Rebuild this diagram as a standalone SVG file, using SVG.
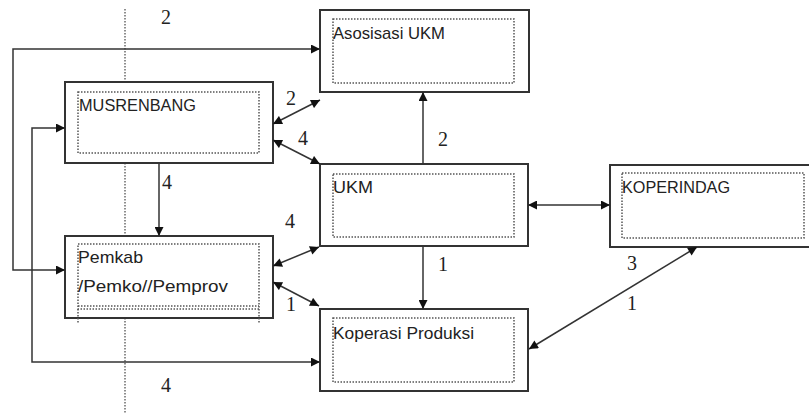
<svg xmlns="http://www.w3.org/2000/svg" width="809" height="414" viewBox="0 0 809 414">
<defs>
<marker id="ah" viewBox="0 0 10 10" refX="10" refY="5" markerWidth="11" markerHeight="9" markerUnits="userSpaceOnUse" orient="auto-start-reverse">
<path d="M0,0 L10,5 L0,10 Z" fill="#111"/>
</marker>
</defs>
<style>
.box{fill:#fff;stroke:#333;stroke-width:2}
.inner{fill:none;stroke:#555;stroke-width:1.5;stroke-dasharray:1.5 1.5}
.lbl{font-family:"Liberation Sans",Arial,sans-serif;font-size:17px;fill:#222}
.num{font-family:"Liberation Serif","Times New Roman",serif;font-size:20px;fill:#222;text-anchor:middle}
.con{fill:none;stroke:#333;stroke-width:1.5;marker-end:url(#ah)}
.both{marker-start:url(#ah)}
.guide{fill:none;stroke:#444;stroke-width:1.2;stroke-dasharray:1.5 1.5}
</style>
<rect width="809" height="414" fill="#fff"/>
<g id="guide">
<path class="guide" d="M125,9 V82 M125,163 V236 M125,318 V414"/>
</g>
<g id="asosisasi">
<rect class="box" x="320" y="10" width="209" height="82"/>
<rect class="inner" x="333" y="19" width="181" height="64"/>
<text class="lbl" x="333" y="39" textLength="112" lengthAdjust="spacingAndGlyphs">Asosisasi UKM</text>
</g>
<g id="musrenbang">
<rect class="box" x="65" y="82" width="208" height="81"/>
<rect class="inner" x="78" y="92" width="181" height="61"/>
<text class="lbl" x="79" y="111" textLength="117" lengthAdjust="spacingAndGlyphs">MUSRENBANG</text>
</g>
<g id="ukm">
<rect class="box" x="320" y="164" width="208" height="82"/>
<rect class="inner" x="333" y="174" width="181" height="63"/>
<text class="lbl" x="333" y="193" textLength="40" lengthAdjust="spacingAndGlyphs">UKM</text>
</g>
<g id="koperindag">
<rect class="box" x="610" y="165" width="202" height="82"/>
<rect class="inner" x="622" y="173" width="182" height="65"/>
<text class="lbl" x="622" y="193" textLength="108" lengthAdjust="spacingAndGlyphs">KOPERINDAG</text>
</g>
<g id="pemkab">
<rect class="box" x="65" y="236" width="208" height="82"/>
<rect class="inner" x="78" y="244" width="181" height="65"/>
<path class="inner" d="M78,306 H259 M78,309 V323 M259,309 V323"/>
<text class="lbl" x="78" y="263" textLength="65" lengthAdjust="spacingAndGlyphs">Pemkab</text>
<text class="lbl" x="78" y="292" textLength="150" lengthAdjust="spacingAndGlyphs">/Pemko//Pemprov</text>
</g>
<g id="koperasi">
<rect class="box" x="320" y="309" width="208" height="82"/>
<rect class="inner" x="333" y="318" width="181" height="64"/>
<text class="lbl" x="333" y="339" textLength="141" lengthAdjust="spacingAndGlyphs">Koperasi Produksi</text>
</g>
<g id="connectors">
<path class="con both" d="M320,49 H13 V270 H65"/>
<path class="con both" d="M65,128 H32 V362 H320"/>
<path class="con" d="M159,163 V236"/>
<path class="con" d="M423,164 V92"/>
<path class="con" d="M423,246 V309"/>
<path class="con both" d="M273,124 L320,100"/>
<path class="con both" d="M273,140 L320,164"/>
<path class="con both" d="M273,266 L319,247"/>
<path class="con both" d="M273,282 L319,306"/>
<path class="con both" d="M528,205 H610"/>
<path class="con both" d="M697,247 L529,349"/>
</g>
<g id="labels">
<text class="num" x="166" y="24">2</text>
<text class="num" x="291" y="105">2</text>
<text class="num" x="303" y="145">4</text>
<text class="num" x="443" y="146">2</text>
<text class="num" x="167" y="189">4</text>
<text class="num" x="290" y="228">4</text>
<text class="num" x="443" y="271">1</text>
<text class="num" x="291" y="311">1</text>
<text class="num" x="632" y="270">3</text>
<text class="num" x="632" y="310">1</text>
<text class="num" x="166" y="392">4</text>
</g>
</svg>
